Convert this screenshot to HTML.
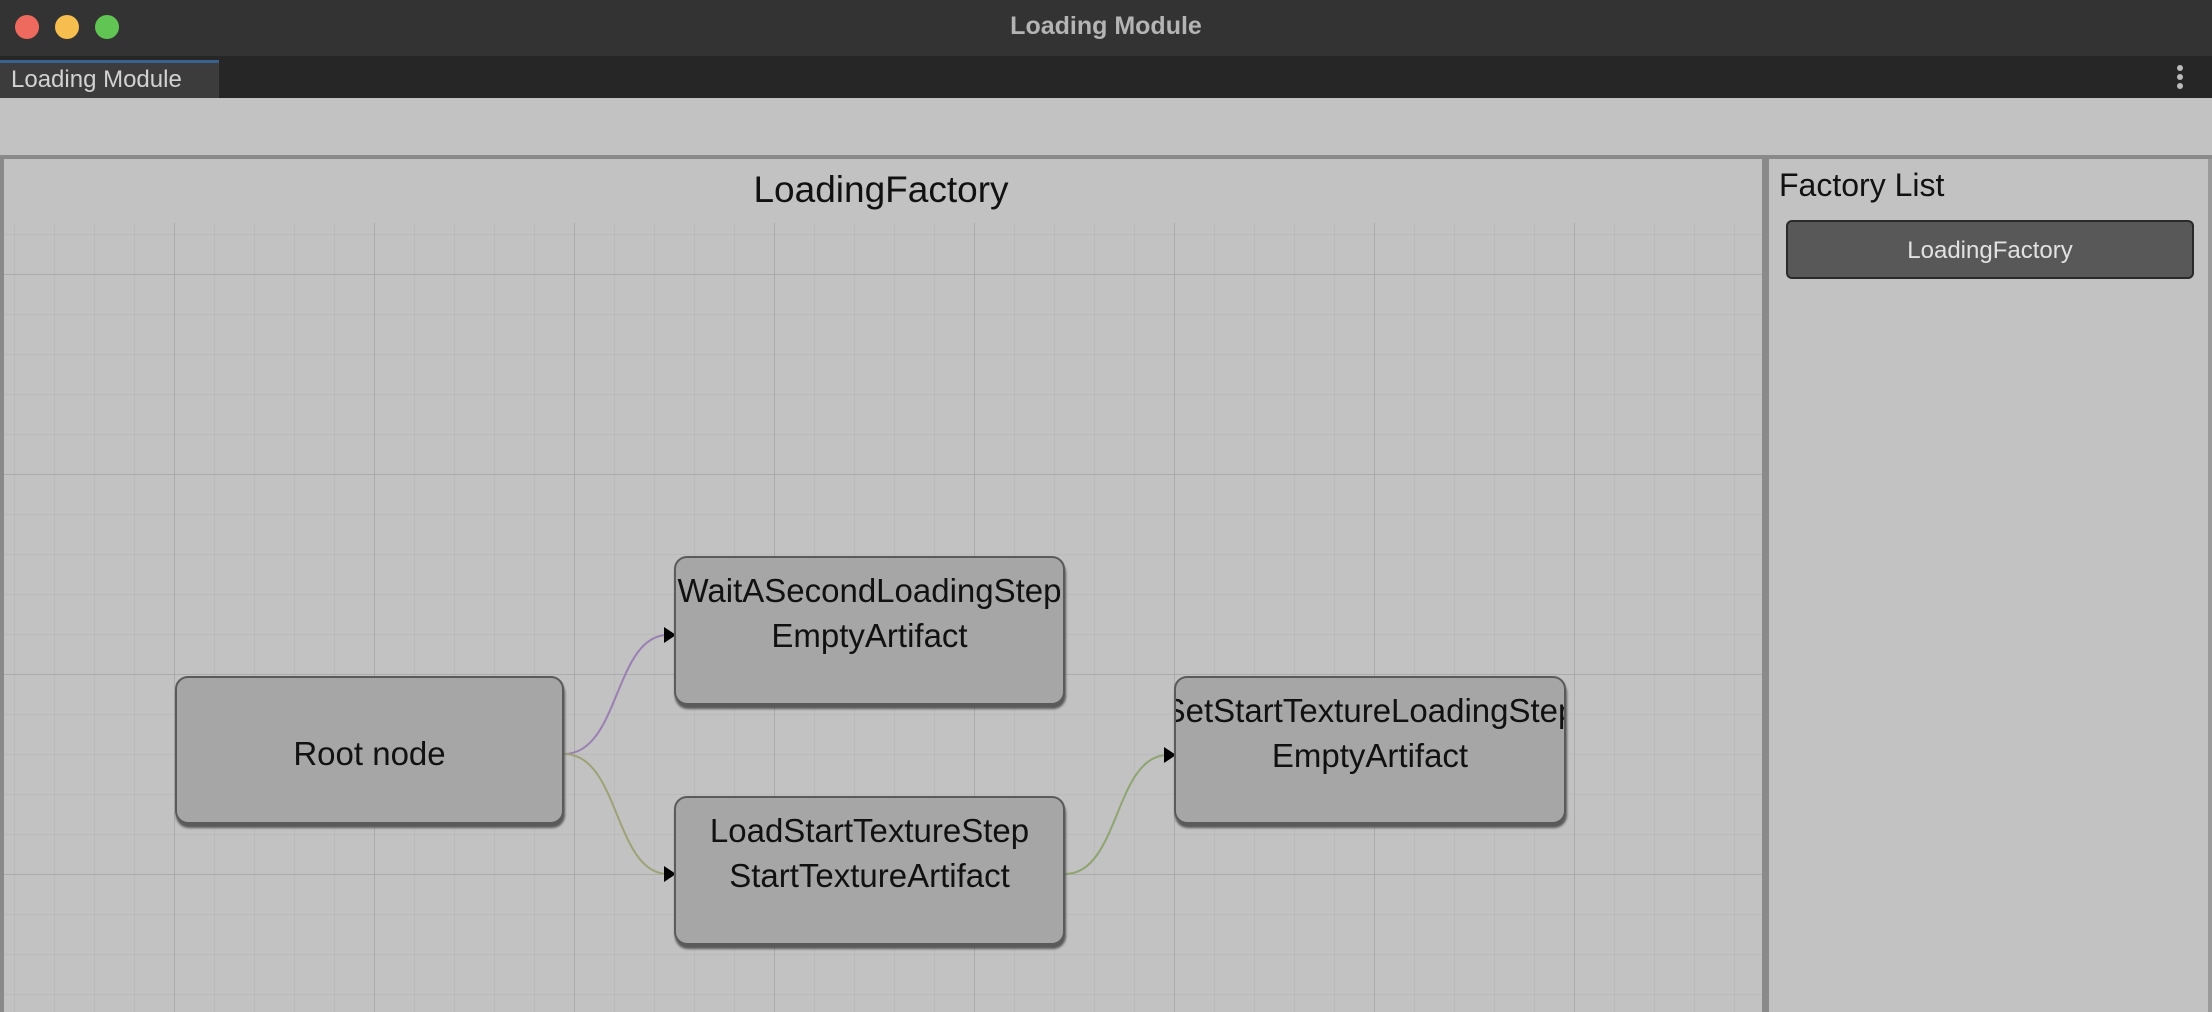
<!DOCTYPE html>
<html><head><meta charset="utf-8"><style>
html,body{margin:0;padding:0;width:2212px;height:1012px;overflow:hidden;background:#c2c2c2;font-family:"Liberation Sans",sans-serif;}
.abs{position:absolute}
</style></head><body>
<div class="abs" style="left:0;top:0;width:2212px;height:56px;background:#333333;"></div>
<div class="abs" style="left:15px;top:15px;width:24px;height:24px;border-radius:50%;background:#ee6a5f"></div>
<div class="abs" style="left:55px;top:15px;width:24px;height:24px;border-radius:50%;background:#f5be4f"></div>
<div class="abs" style="left:95px;top:15px;width:24px;height:24px;border-radius:50%;background:#61c554"></div>
<div class="abs" style="left:0;top:12px;width:2212px;text-align:center;color:#b4b4b4;font-weight:bold;font-size:25px;">Loading Module</div>
<div class="abs" style="left:0;top:56px;width:2212px;height:42px;background:#262626;"></div>
<div class="abs" style="left:0;top:60px;width:219px;height:38px;background:#3c3c3c;border-top:3px solid #3a6290;box-sizing:border-box;"></div>
<div class="abs" style="left:11px;top:66px;color:#d2d2d2;font-size:24px;">Loading Module</div>
<div class="abs" style="left:2177px;top:65px;width:6px;height:6px;border-radius:50%;background:#bbb;box-shadow:0 9px 0 #bbb,0 18px 0 #bbb"></div>
<div class="abs" style="left:0;top:155px;width:2212px;height:4px;background:#8a8a8a;"></div>
<div class="abs" style="left:0;top:159px;width:4px;height:853px;background:#8a8a8a;"></div>
<div class="abs" style="left:1762px;top:159px;width:7px;height:853px;background:#8a8a8a;"></div>
<div class="abs" style="left:2208px;top:159px;width:4px;height:853px;background:#9a9a9a;"></div>
<svg class="abs" style="left:0;top:0" width="2212" height="1012">
<defs>
<pattern id="mn" x="14" y="234" width="40" height="40" patternUnits="userSpaceOnUse"><path d="M0 0H40M0 0V40" stroke="#b4b4b4" stroke-width="1" fill="none"/></pattern>
<pattern id="mj" x="174" y="274" width="200" height="200" patternUnits="userSpaceOnUse"><path d="M0 0H200M0 0V200" stroke="#a3a3a3" stroke-width="1.5" fill="none"/></pattern>
</defs>
<rect x="4" y="223" width="1758" height="789" fill="url(#mn)"/>
<rect x="4" y="223" width="1758" height="789" fill="url(#mj)"/>
<path d="M564 754 C620 754,614 635,668 635" stroke="#9a80b2" stroke-width="2" fill="none"/>
<path d="M564 754 C620 754,614 874,668 874" stroke="#9ea276" stroke-width="2" fill="none"/>
<path d="M1065 874 C1120 874,1114 755,1168 755" stroke="#8ea472" stroke-width="2" fill="none"/>
<polygon points="664,627 676,635 664,643" fill="#000"/>
<polygon points="664,866 676,874 664,882" fill="#000"/>
<polygon points="1164,747 1176,755 1164,763" fill="#000"/>
</svg>
<div class="abs" style="left:0;top:169px;width:1762px;text-align:center;font-size:37px;color:#111;">LoadingFactory</div>
<style>.node{position:absolute;background:#a6a6a6;border:2px solid #5a5a5a;border-radius:13px;box-shadow:1px 4px 2px #5a5a5a;overflow:hidden;box-sizing:border-box;text-align:center;font-size:33px;color:#111;line-height:45px;white-space:nowrap}</style>
<div class="node" style="left:175px;top:676px;width:389px;height:148px;"><div style="padding-top:53px">Root node</div></div>
<div class="node" style="left:674px;top:556px;width:391px;height:149px;"><div style="padding-top:10px;margin-left:-60px;margin-right:-60px">WaitASecondLoadingStep<br>EmptyArtifact</div></div>
<div class="node" style="left:674px;top:796px;width:391px;height:149px;"><div style="padding-top:10px">LoadStartTextureStep<br>StartTextureArtifact</div></div>
<div class="node" style="left:1174px;top:676px;width:392px;height:148px;"><div style="padding-top:10px;margin-left:-80px;margin-right:-80px">SetStartTextureLoadingStep<br>EmptyArtifact</div></div>
<div class="abs" style="left:1779px;top:167px;font-size:32px;color:#111;">Factory List</div>
<div class="abs" style="left:1786px;top:220px;width:408px;height:59px;background:#585858;border:2px solid #2a2a2a;border-radius:6px;box-sizing:border-box;color:#e2e2e2;font-size:24px;text-align:center;line-height:57px;">LoadingFactory</div>
</body></html>
